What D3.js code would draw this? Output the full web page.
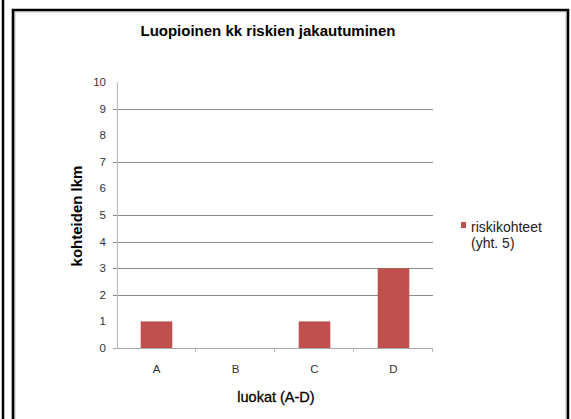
<!DOCTYPE html>
<html>
<head>
<meta charset="utf-8">
<script src="https://cdn.jsdelivr.net/npm/d3@7"></script>
<style>
  html, body { margin: 0; padding: 0; background: #fff; }
  svg { display: block; }
  text { font-family: "Liberation Sans", Arial, sans-serif; }
</style>
</head>
<body>
<svg id="chart" width="571" height="419"></svg>
<script>
// ---- data ----
const categories = ["A", "B", "C", "D"];
const values = [1, 0, 1, 3];
const yTicks = [0, 1, 2, 3, 4, 5, 6, 7, 8, 9, 10];
const gridValues = [2, 3, 4, 5, 7, 9];   // gridlines visible in the reference
const seriesName = ["riskikohteet", "(yht. 5)"];
const titleText = "Luopioinen kk riskien jakautuminen";
const yTitle = "kohteiden lkm";
const xTitle = "luokat (A-D)";

const svg = d3.select("#chart");

// frames
svg.append("rect").attr("x", 0).attr("y", 0).attr("width", 571).attr("height", 419).attr("fill", "#fff");
svg.append("line").attr("x1", 3).attr("x2", 3).attr("y1", 0).attr("y2", 419)
  .attr("stroke", "#000").attr("stroke-width", 2.5);
svg.append("path").attr("d", "M15,419 V12 H566 V419")
  .attr("fill", "none").attr("stroke", "#c8c8c8").attr("stroke-width", 1.2);
svg.append("path").attr("d", "M13,419 V10 H568 V419")
  .attr("fill", "none").attr("stroke", "#000").attr("stroke-width", 2.6);

const x0 = 117, x1 = 433, yTop = 82, yBot = 348;
const x = d3.scaleBand().domain(categories).range([x0, x1]).padding(0);
const y = d3.scaleLinear().domain([0, 10]).range([yBot, yTop]);

// gridlines
svg.append("g").selectAll("line").data(gridValues).join("line")
  .attr("x1", x0 - 4).attr("x2", x1)
  .attr("y1", d => Math.round(y(d)) + 0.5).attr("y2", d => Math.round(y(d)) + 0.5)
  .attr("stroke", "#8a8a8a").attr("stroke-width", 1);

// y axis line
svg.append("line").attr("x1", x0 + 0.5).attr("x2", x0 + 0.5).attr("y1", yTop).attr("y2", yBot)
  .attr("stroke", "#b8b8b8").attr("stroke-width", 1);

// y tick labels
svg.append("g").selectAll("text").data(yTicks).join("text")
  .attr("x", 106).attr("y", d => y(d) + 4)
  .attr("text-anchor", "end").attr("font-size", 11.5).attr("fill", "#333")
  .text(d => d);

// bars
const barW = x.bandwidth() * 0.4;
svg.append("g").selectAll("rect").data(values).join("rect")
  .attr("x", (d, i) => x(categories[i]) + (x.bandwidth() - barW) / 2)
  .attr("width", barW)
  .attr("y", d => y(d))
  .attr("height", d => y(0) - y(d))
  .attr("fill", "#C0504D");

// x axis line and ticks
svg.append("line").attr("x1", x0 - 4).attr("x2", x1).attr("y1", yBot + 0.5).attr("y2", yBot + 0.5)
  .attr("stroke", "#a8a8a8").attr("stroke-width", 1);
svg.append("g").selectAll("line").data(categories.slice(1).concat(["end"])).join("line")
  .attr("x1", (d, i) => (i < categories.length - 1 ? x(d) : x1) - 0.5)
  .attr("x2", (d, i) => (i < categories.length - 1 ? x(d) : x1) - 0.5)
  .attr("y1", yBot).attr("y2", yBot + 4)
  .attr("stroke", "#b8b8b8").attr("stroke-width", 1);

// x tick labels
svg.append("g").selectAll("text").data(categories).join("text")
  .attr("x", d => x(d) + x.bandwidth() / 2).attr("y", 373)
  .attr("text-anchor", "middle").attr("font-size", 11.5).attr("fill", "#333")
  .text(d => d);

// title
svg.append("text").attr("x", 268).attr("y", 35.5).attr("text-anchor", "middle")
  .attr("font-size", 15).attr("font-weight", "bold").attr("fill", "#000").text(titleText);

// axis titles
svg.append("text").attr("transform", "translate(82,216) rotate(-90)")
  .attr("text-anchor", "middle").attr("font-size", 15).attr("font-weight", "bold").attr("fill", "#000")
  .text(yTitle);
svg.append("text").attr("x", 276).attr("y", 402).attr("text-anchor", "middle")
  .attr("font-size", 14.5).attr("fill", "#000").attr("stroke", "#000").attr("stroke-width", 0.3)
  .text(xTitle);

// legend
svg.append("rect").attr("x", 461).attr("y", 222).attr("width", 5).attr("height", 6).attr("fill", "#C0504D");
svg.append("g").selectAll("text").data(seriesName).join("text")
  .attr("x", 471).attr("y", (d, i) => 232 + i * 16)
  .attr("font-size", 14).attr("fill", "#222").text(d => d);
</script>
</body>
</html>
